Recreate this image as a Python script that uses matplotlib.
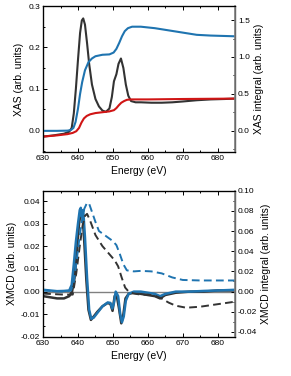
import matplotlib
matplotlib.use("Agg")
import matplotlib.pyplot as plt
from matplotlib.ticker import MultipleLocator

plt.rcParams['font.family'] = ['Liberation Sans', 'DejaVu Sans']

# ---------------- data ----------------
# top panel: XAS (left axis), step function (left), XAS integral (right)
e_xas = [630, 633, 636, 637.5, 638.2, 638.8, 639.4, 640, 640.6, 641.1, 641.5, 642,
         642.6, 643.2, 644, 645, 646, 647, 648, 649, 649.7, 650.3, 651, 651.6,
         652.3, 653, 653.7, 654.4, 655.2, 656.5, 658, 661, 664, 667, 670, 674,
         678, 682, 685]
xas = [-0.016, -0.013, -0.009, -0.004, 0.005, 0.04, 0.1, 0.17, 0.235, 0.265,
       0.27, 0.255, 0.21, 0.16, 0.11, 0.075, 0.057, 0.047, 0.044, 0.052, 0.08,
       0.118, 0.135, 0.16, 0.173, 0.15, 0.11, 0.083, 0.07, 0.067, 0.067, 0.066,
       0.066, 0.067, 0.069, 0.072, 0.074, 0.075, 0.076]

e_step = [630, 634, 637, 638.5, 639.5, 640.3, 641, 641.7, 642.5, 643.5, 645,
          647, 649, 650.3, 651, 651.7, 652.4, 653.2, 654, 655, 657, 660, 670, 685]
step = [-0.016, -0.013, -0.01, -0.007, -0.003, 0.005, 0.018, 0.028, 0.034, 0.038,
        0.041, 0.043, 0.045, 0.048, 0.053, 0.06, 0.066, 0.07, 0.073, 0.074,
        0.074, 0.074, 0.075, 0.076]

e_xas_int = [630, 634, 637, 638, 638.7, 639.3, 640, 640.6, 641.2, 642, 643, 644,
             645, 647, 649, 650.2, 651, 651.8, 652.6, 653.4, 654.3, 655.5, 658,
             662, 666, 670, 674, 678, 685]
xas_int = [0.0, 0.0, 0.003, 0.012, 0.04, 0.12, 0.3, 0.5, 0.66, 0.82, 0.93, 0.98,
           1.01, 1.03, 1.035, 1.06, 1.11, 1.19, 1.28, 1.35, 1.39, 1.41, 1.41,
           1.39, 1.36, 1.33, 1.30, 1.29, 1.28]

# bottom panel: XMCD (left axis) and XMCD integrals (right axis)
e_mcd_k = [630, 632, 634, 636, 637.5, 638.3, 639, 639.7, 640.3, 640.8, 641.3,
           641.8, 642.4, 643, 643.7, 644.5, 645.5, 647, 648.5, 649.3, 649.9,
           650.5, 651, 651.7, 652.4, 653, 653.6, 654.5, 656, 658, 660, 662,
           663.5, 665, 668, 672, 676, 680, 685]
mcd_k = [-0.002, -0.0025, -0.003, -0.003, -0.002, 0.0, 0.006, 0.018, 0.03, 0.035,
         0.034, 0.022, 0.005, -0.008, -0.0125, -0.011, -0.009, -0.0065, -0.005,
         -0.0055, -0.0085, -0.002, -0.001, -0.007, -0.014, -0.010, -0.003,
         -0.001, -0.0005, -0.001, -0.0015, -0.002, -0.003, -0.0015, -0.0005,
         0.0, 0.0, 0.0005, 0.0005]

e_mcd_b = [630, 632, 634, 636, 637.5, 638.2, 638.8, 639.4, 640, 640.5, 640.8,
           641.1, 641.5, 642, 642.6, 643.2, 643.8, 644.5, 645.5, 647, 648.5,
           649.3, 649.8, 650.3, 650.8, 651.5, 652.1, 652.6, 653.1, 653.7, 654.5,
           656, 658, 660, 662, 663.5, 665, 668, 672, 676, 680, 685]
mcd_b = [0.0008, 0.0005, 0.0002, 0.0003, 0.0005, 0.003, 0.012, 0.022, 0.03, 0.036,
         0.037, 0.033, 0.036, 0.024, 0.006, -0.008, -0.012, -0.0115, -0.0095,
         -0.0065, -0.0048, -0.005, -0.0075, -0.005, 0.0, -0.002, -0.01, -0.0135,
         -0.011, -0.004, -0.001, 0.0, 0.0, -0.0005, -0.001, -0.002, -0.001, 0.0,
         0.0, 0.0003, 0.0005, 0.0008]

e_int_k = [630, 636, 638.5, 639.5, 640.5, 641.3, 642, 642.6, 643.5, 645, 647, 649,
           650.5, 651.5, 652.5, 653.5, 654.5, 656, 658, 660, 662, 664, 666, 668,
           671, 675, 680, 685]
int_k = [-0.002, -0.003, -0.003, 0.018, 0.045, 0.065, 0.075, 0.077, 0.07, 0.056,
         0.045, 0.037, 0.031, 0.025, 0.014, 0.004, 0.0, -0.002, -0.003, -0.003,
         -0.004, -0.007, -0.011, -0.014, -0.016, -0.015, -0.0125, -0.010]

e_int_b = [630, 636, 638, 638.8, 639.6, 640.3, 641, 641.8, 642.6, 643.2, 644, 645,
           646, 648, 650, 651, 652, 653, 654, 656, 658, 661, 664, 667, 670, 675,
           680, 685]
int_b = [0.001, 0.0, 0.001, 0.01, 0.03, 0.05, 0.068, 0.082, 0.088, 0.087, 0.079,
         0.069, 0.06, 0.055, 0.05, 0.046, 0.037, 0.027, 0.021, 0.02, 0.0205, 0.020,
         0.018, 0.014, 0.0115, 0.011, 0.011, 0.011]

BLUE = "#1f74b0"
DARK = "#333333"
RED = "#d01515"
FS_TICK = 6
FS_LAB = 7.5
DASH = (0, (4, 2.2))


def style_axes(ax, right=False):
    ax.tick_params(which="both", direction="in", labelsize=FS_TICK, width=0.7,
                   top=not right, right=False, pad=2)
    ax.tick_params(which="major", length=3)
    ax.tick_params(which="minor", length=1.6)
    for s in ax.spines.values():
        s.set_linewidth(0.9)


fig = plt.figure(figsize=(2.91, 3.76), dpi=100)

# ===== top panel =====
ax1 = fig.add_axes([0.148, 0.596, 0.660, 0.388])
ax1.plot(e_xas, xas, color=DARK, lw=1.5)
ax1.plot(e_step, step, color=RED, lw=1.5)
ax1.set_xlim(630, 685)
ax1.set_ylim(-0.053, 0.3)
ax1.xaxis.set_major_locator(MultipleLocator(10))
ax1.xaxis.set_minor_locator(MultipleLocator(5))
ax1.yaxis.set_major_locator(MultipleLocator(0.1))
ax1.yaxis.set_minor_locator(MultipleLocator(0.05))
ax1.set_xlabel("Energy (eV)", fontsize=FS_LAB, labelpad=3)
ax1.set_ylabel("XAS (arb. units)", fontsize=FS_LAB, labelpad=3)
style_axes(ax1)

ax1r = ax1.twinx()
ax1r.plot(e_xas_int, xas_int, color=BLUE, lw=1.5)
ax1r.set_ylim(-0.285, 1.69)
ax1r.yaxis.set_major_locator(MultipleLocator(0.5))
ax1r.yaxis.set_minor_locator(MultipleLocator(0.25))
ax1r.tick_params(which="both", direction="in", labelsize=FS_TICK, width=0.7, pad=2)
ax1r.tick_params(which="major", length=3)
ax1r.tick_params(which="minor", length=1.6)
ax1r.spines["right"].set_color("#808080")
ax1r.spines["right"].set_linewidth(1.2)
ax1r.set_ylabel("XAS integral (arb. units)", fontsize=FS_LAB, labelpad=3)
ax1r.set_yticklabels([f"{t:.1f}" for t in ax1r.get_yticks()])

# ===== bottom panel =====
ax2 = fig.add_axes([0.148, 0.104, 0.660, 0.389])
ax2.axhline(0, color="#808080", lw=1.0, zorder=1)
ax2.plot(e_mcd_k, mcd_k, color=DARK, lw=1.8, zorder=2)
ax2.plot(e_mcd_b, mcd_b, color=BLUE, lw=1.8, zorder=3)
ax2.set_xlim(630, 685)
ax2.set_ylim(-0.02, 0.0446)
ax2.xaxis.set_major_locator(MultipleLocator(10))
ax2.xaxis.set_minor_locator(MultipleLocator(5))
ax2.yaxis.set_major_locator(MultipleLocator(0.01))
ax2.yaxis.set_minor_locator(MultipleLocator(0.005))
ax2.set_xlabel("Energy (eV)", fontsize=FS_LAB, labelpad=3)
ax2.set_ylabel("XMCD (arb. units)", fontsize=FS_LAB, labelpad=3)
style_axes(ax2)
ax2.set_yticks(ax2.get_yticks())
ax2.set_yticklabels([f"{t:.2f}" for t in ax2.get_yticks()])
ax2.set_ylim(-0.02, 0.0446)

ax2r = ax2.twinx()
ax2r.plot(e_int_k, int_k, color=DARK, lw=1.4, ls=DASH)
ax2r.plot(e_int_b, int_b, color=BLUE, lw=1.4, ls=DASH)
ax2r.set_ylim(-0.0449, 0.10)
ax2r.yaxis.set_major_locator(MultipleLocator(0.02))
ax2r.yaxis.set_minor_locator(MultipleLocator(0.01))
ax2r.tick_params(which="both", direction="in", labelsize=FS_TICK, width=0.7, pad=2)
ax2r.tick_params(which="major", length=3)
ax2r.tick_params(which="minor", length=1.6)
ax2r.spines["right"].set_color("#808080")
ax2r.spines["right"].set_linewidth(1.2)
ax2r.set_ylabel("XMCD integral (arb. units)", fontsize=FS_LAB, labelpad=3)
ax2r.set_yticks(ax2r.get_yticks())
ax2r.set_yticklabels([f"{t:.2f}" for t in ax2r.get_yticks()])
ax2r.set_ylim(-0.0449, 0.10)

fig.savefig("out.png", dpi=100)
